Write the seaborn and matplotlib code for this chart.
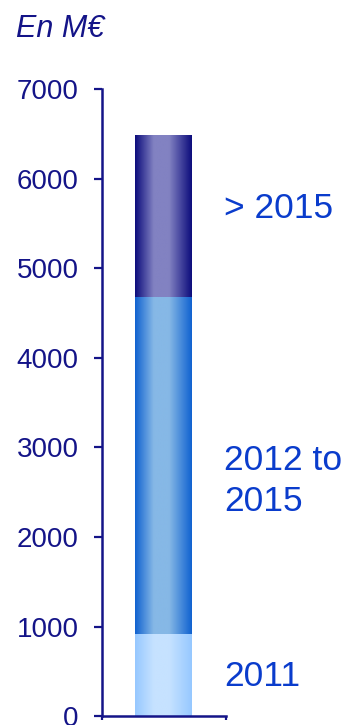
import numpy as np
import pandas as pd
import matplotlib
matplotlib.use("Agg")
import matplotlib.pyplot as plt
import seaborn as sns
from matplotlib.colors import LinearSegmentedColormap

# ---- data ----
segments = ["2011", "2012 to\n2015", "> 2015"]
values = [920, 3760, 1800]
category = ["Total"]
yticks = [0, 1000, 2000, 3000, 4000, 5000, 6000, 7000]
unit_label = "En M€"

edge_cols = ["#96c8ff", "#1062d0", "#0c0c7c"]
center_cols = ["#c6e2ff", "#86b8e6", "#8282c2"]

sns.set_theme(style="white")
plt.rcParams["font.family"] = ["Liberation Sans", "DejaVu Sans"]

NAVY = "#141488"
LABEL = "#0a3ccc"

fig = plt.figure(figsize=(3.53, 7.25), dpi=100)
ax = fig.add_axes([0.289, 0.0124, 0.351, 0.8642])

cum = np.cumsum(values)
bottoms = np.concatenate([[0], cum[:-1]])

# cumulative bars drawn tallest first (stack trick)
patches_by_seg = {}
for i in reversed(range(len(values))):
    df = pd.DataFrame({"cat": category, "val": [cum[i]]})
    n_before = len(ax.patches)
    sns.barplot(data=df, x="cat", y="val", ax=ax, width=0.46,
                color="white", edgecolor="none", linewidth=0, saturation=1)
    patches_by_seg[i] = ax.patches[n_before]

# gradient fill per segment
for i in range(len(values)):
    p = patches_by_seg[i]
    p.set_facecolor("none")
    x0 = p.get_x()
    w = p.get_width()
    cmap = LinearSegmentedColormap.from_list(
        f"g{i}",
        [(0.0, edge_cols[i]), (0.33, center_cols[i]), (0.6, center_cols[i]), (1.0, edge_cols[i])])
    grad = np.linspace(0, 1, 256).reshape(1, -1)
    ax.imshow(grad, cmap=cmap, aspect="auto", interpolation="bilinear",
              extent=[x0, x0 + w, bottoms[i], cum[i]], zorder=2)

ax.set_xlim(-0.5, 0.5)
ax.set_ylim(0, 7000)
ax.set_yticks(yticks)
ax.set_yticklabels([str(t) for t in yticks], fontsize=20, color=NAVY)
ax.set_xticks([-0.5, 0.5])
ax.set_xticklabels(["", ""])
ax.set_xlabel("")
ax.set_ylabel("")
ax.tick_params(axis="y", direction="out", length=6, width=1.6, color=NAVY, pad=11, left=True)
ax.tick_params(axis="x", direction="out", length=3, width=1.6, color=NAVY, bottom=True)
for s in ["top", "right"]:
    ax.spines[s].set_visible(False)
for s in ["left", "bottom"]:
    ax.spines[s].set_visible(True)
    ax.spines[s].set_color(NAVY)
    ax.spines[s].set_linewidth(1.8)

# segment labels
label_y = [445, 2630, 5670]
for i, txt in enumerate(segments):
    ax.text(0.484, label_y[i], txt, fontsize=25.5, color=LABEL, ha="left", va="center",
            linespacing=1.3, clip_on=False)

fig.text(16 / 353, 1 - 37 / 725, unit_label, fontsize=22, style="italic", color=NAVY,
         ha="left", va="baseline")

fig.savefig("out.png", dpi=100)
